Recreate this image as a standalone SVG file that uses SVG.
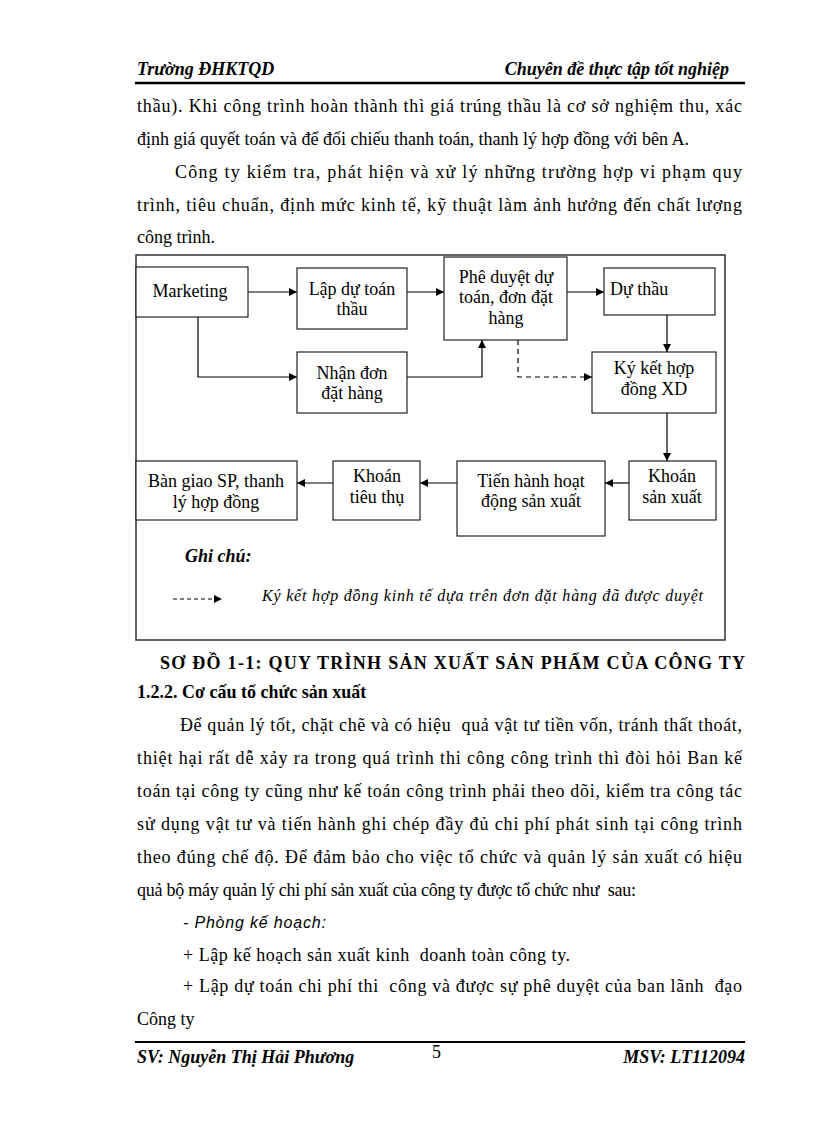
<svg xmlns="http://www.w3.org/2000/svg" width="816" height="1123" viewBox="0 0 816 1123">
<defs>
<style>
.t{font-family:"Liberation Serif","Times New Roman",serif;font-size:18px;fill:#000;white-space:pre}
.hb{font-family:"Liberation Serif","Times New Roman",serif;font-size:18px;font-weight:bold;font-style:italic;fill:#000}
.b{font-family:"Liberation Serif","Times New Roman",serif;font-size:18px;font-weight:bold;fill:#000}
.bx{fill:#fff;stroke:#222;stroke-width:1.2}
.lb{font-family:"Liberation Serif","Times New Roman",serif;font-size:18px;fill:#000;text-anchor:middle}
.cn{fill:none;stroke:#000;stroke-width:1.2}
.ds{stroke-dasharray:5,4}
.lg{font-family:"Liberation Serif","Times New Roman",serif;font-size:16px;font-style:italic;fill:#000}
.ps{font-family:"Liberation Sans",Arial,sans-serif;font-size:16px;font-style:italic;fill:#000}
</style>
<marker id="ah" viewBox="0 0 10 10" refX="10" refY="5" markerWidth="8" markerHeight="8" markerUnits="userSpaceOnUse" orient="auto">
<path d="M0,0 L10,5 L0,10 Z" fill="#000"/>
</marker>
</defs>
<rect width="816" height="1123" fill="#fff"/>

<g id="header">
<text class="hb" x="137" y="75">Trường ĐHKTQD</text>
<text class="hb" x="729" y="75" text-anchor="end">Chuyên đề thực tập tốt nghiệp</text>
<line x1="135" y1="83" x2="745" y2="83" stroke="#000" stroke-width="2.5"/>
</g>

<g id="text-top">
<text class="t" x="137" y="112" textLength="605" lengthAdjust="spacing">thầu). Khi công trình hoàn thành thì giá trúng thầu là cơ sở nghiệm thu, xác</text>
<text class="t" x="137" y="145">định giá quyết toán và để đối chiếu thanh toán, thanh lý hợp đồng với bên A.</text>
<text class="t" x="175" y="178" textLength="567" lengthAdjust="spacing">Công ty kiểm tra, phát hiện và xử lý những trường hợp vi phạm quy</text>
<text class="t" x="137" y="211" textLength="605" lengthAdjust="spacing">trình, tiêu chuẩn, định mức kinh tế, kỹ thuật làm ảnh hưởng đến chất lượng</text>
<text class="t" x="137" y="243">công trình.</text>
</g>

<rect id="frame" x="136" y="255" width="589" height="385" fill="none" stroke="#333" stroke-width="1.5"/>

<g id="connectors">
<path class="cn" d="M248,292 H297" marker-end="url(#ah)"/>
<path class="cn" d="M198,317 V377 H297" marker-end="url(#ah)"/>
<path class="cn" d="M407,292 H444" marker-end="url(#ah)"/>
<path class="cn" d="M407,377 H482 V340" marker-end="url(#ah)"/>
<path class="cn" d="M567,292 H604" marker-end="url(#ah)"/>
<path class="cn" d="M667,315 V352" marker-end="url(#ah)"/>
<path class="cn ds" d="M518,340 V377 H592" marker-end="url(#ah)"/>
<path class="cn" d="M667,413 V461" marker-end="url(#ah)"/>
<path class="cn" d="M629,483 H605" marker-end="url(#ah)"/>
<path class="cn" d="M457,483 H420" marker-end="url(#ah)"/>
<path class="cn" d="M333,483 H297" marker-end="url(#ah)"/>
</g>

<g id="marketing"><rect class="bx" x="136" y="267" width="112" height="50"/><text class="lb" x="190" y="297">Marketing</text></g>
<g id="lap-du-toan"><rect class="bx" x="297" y="268" width="110" height="61"/><text class="lb" x="352" y="295">Lập dự toán</text><text class="lb" x="352" y="315">thầu</text></g>
<g id="nhan-don"><rect class="bx" x="297" y="352" width="110" height="61"/><text class="lb" x="352" y="379">Nhận đơn</text><text class="lb" x="352" y="399">đặt hàng</text></g>
<g id="phe-duyet"><rect class="bx" x="444" y="257" width="123" height="83"/><text class="lb" x="506" y="283">Phê duyệt dự</text><text class="lb" x="506" y="303">toán, đơn đặt</text><text class="lb" x="506" y="324">hàng</text></g>
<g id="du-thau"><rect class="bx" x="604" y="268" width="111" height="47"/><text class="t" x="610" y="295">Dự thầu</text></g>
<g id="ky-ket"><rect class="bx" x="592" y="352" width="124" height="61"/><text class="lb" x="654" y="374">Ký kết hợp</text><text class="lb" x="654" y="395">đồng XD</text></g>
<g id="ban-giao"><rect class="bx" x="136" y="461" width="161" height="59"/><text class="lb" x="216" y="487">Bàn giao SP, thanh</text><text class="lb" x="216" y="508">lý hợp đồng</text></g>
<g id="khoan-tieu-thu"><rect class="bx" x="333" y="461" width="87" height="59"/><text class="lb" x="377" y="482">Khoán</text><text class="lb" x="377" y="503">tiêu thụ</text></g>
<g id="tien-hanh"><rect class="bx" x="457" y="461" width="148" height="75"/><text class="lb" x="531" y="487">Tiến hành hoạt</text><text class="lb" x="531" y="507">động sản xuất</text></g>
<g id="khoan-san-xuat"><rect class="bx" x="629" y="461" width="87" height="59"/><text class="lb" x="672" y="482">Khoán</text><text class="lb" x="672" y="503">sản xuất</text></g>

<g id="legend">
<text class="hb" x="185" y="562">Ghi chú:</text>
<path class="cn" d="M173,599 H222" stroke-dasharray="4,3" marker-end="url(#ah)"/>
<text class="lg" x="262" y="601" textLength="441" lengthAdjust="spacing">Ký kết hợp đồng kinh tế dựa trên đơn đặt hàng đã được duyệt</text>
</g>

<g id="text-bottom">
<text class="b" x="160" y="669" textLength="585" lengthAdjust="spacing">SƠ ĐỒ 1-1: QUY TRÌNH SẢN XUẤT SẢN PHẨM CỦA CÔNG TY</text>
<text class="b" x="137" y="698">1.2.2. Cơ cấu tổ chức sản xuất</text>
<text class="t" x="180" y="731" textLength="562" lengthAdjust="spacing">Để quản lý tốt, chặt chẽ và có hiệu  quả vật tư tiền vốn, tránh thất thoát,</text>
<text class="t" x="137" y="764" textLength="605" lengthAdjust="spacing">thiệt hại rất dễ xảy ra trong quá trình thi công công trình thì đòi hỏi Ban kế</text>
<text class="t" x="137" y="797" textLength="605" lengthAdjust="spacing">toán tại công ty cũng như kế toán công trình phải theo dõi, kiểm tra công tác</text>
<text class="t" x="137" y="830" textLength="605" lengthAdjust="spacing">sử dụng vật tư và tiến hành ghi chép đầy đủ chi phí phát sinh tại công trình</text>
<text class="t" x="137" y="863" textLength="605" lengthAdjust="spacing">theo đúng chế độ. Để đảm bảo cho việc tổ chức và quản lý sản xuất có hiệu</text>
<text class="t" x="137" y="896" textLength="499" lengthAdjust="spacing">quả bộ máy quản lý chi phí sản xuất của công ty được tổ chức như  sau:</text>
<text class="ps" x="183" y="928" textLength="143" lengthAdjust="spacing">- Phòng kế hoạch:</text>
<text class="t" x="183" y="961" textLength="387" lengthAdjust="spacing">+ Lập kế hoạch sản xuất kinh  doanh toàn công ty.</text>
<text class="t" x="183" y="992" textLength="559" lengthAdjust="spacing">+ Lập dự toán chi phí thi  công và được sự phê duyệt của ban lãnh  đạo</text>
<text class="t" x="137" y="1025">Công ty</text>
</g>

<g id="footer">
<line x1="135" y1="1042" x2="745" y2="1042" stroke="#000" stroke-width="2"/>
<text class="hb" x="137" y="1063">SV: Nguyễn Thị Hải Phương</text>
<text class="t" x="432" y="1058">5</text>
<text class="hb" x="745" y="1063" text-anchor="end">MSV: LT112094</text>
</g>
</svg>
